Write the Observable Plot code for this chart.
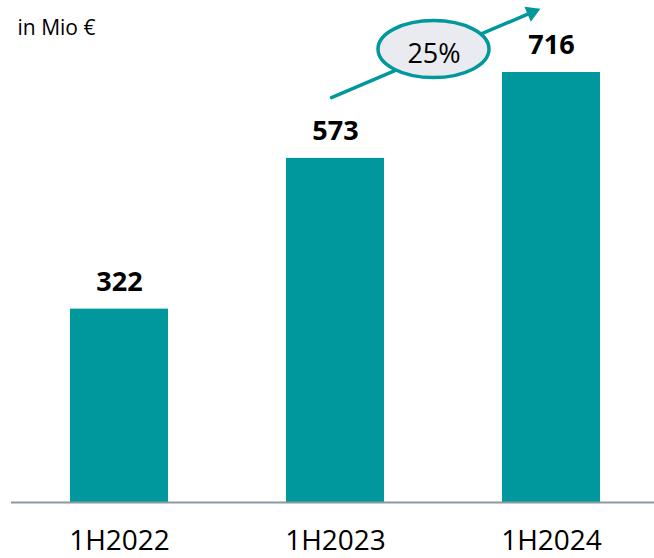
<!DOCTYPE html>
<html><head><meta charset="utf-8">
<script src="https://cdn.jsdelivr.net/npm/d3@7"></script>
<script src="https://cdn.jsdelivr.net/npm/@observablehq/plot@0.6"></script>
<style>html,body{margin:0;padding:0;background:#fff;} #chart{position:relative;width:654px;height:558px;overflow:hidden}</style>
</head><body><div id="chart"></div>
<script>
// Data
const periods = ["1H2022", "1H2023", "1H2024"];
const revenue = [322, 573, 716];
const unitLabel = "in Mio €";
// Growth annotation (heights expressed in Mio €)
const growthFrom = ["1H2023"];
const growthTo = ["1H2024"];
const growthLabels = ["25%"];
const arrowStartValue = [677];
const arrowEndValue = [830];
const arrowTipValue = [816];
const badgeValue = [755];

const data = periods.map((p, i) => ({period: p, value: revenue[i]}));
const growth = growthLabels.map((l, i) => ({
  from: growthFrom[i], to: growthTo[i], label: l,
  y1: arrowStartValue[i], y2: arrowEndValue[i], tip: arrowTipValue[i], badge: badgeValue[i]
}));

const teal = "#00989c";
const ellipseSymbol = {
  draw(ctx) {
    const rx = 55.5, ry = 28.5, k = 0.5523;
    ctx.moveTo(rx, 0);
    ctx.bezierCurveTo(rx, k * ry, k * rx, ry, 0, ry);
    ctx.bezierCurveTo(-k * rx, ry, -rx, k * ry, -rx, 0);
    ctx.bezierCurveTo(-rx, -k * ry, -k * rx, -ry, 0, -ry);
    ctx.bezierCurveTo(k * rx, -ry, rx, -k * ry, rx, 0);
    ctx.closePath();
  }
};

const chart = Plot.plot({
  width: 654, height: 558,
  marginLeft: 11, marginRight: 0, marginTop: 72, marginBottom: 56,
  style: {fontFamily: "'Open Sans', sans-serif", background: "#fff", color: "#000", overflow: "visible"},
  x: {type: "band", domain: periods, range: [5, 665], paddingInner: 0.546, paddingOuter: 0.3, align: 0.5, label: null},
  y: {domain: [0, 716], axis: null},
  marks: [
    Plot.barY(data, {x: "period", y: "value", fill: teal}),
    Plot.ruleY([0], {stroke: "#8b9a9f", strokeWidth: 2}),
    Plot.axisX({tickSize: 0, tickPadding: 28, fontSize: 28, fill: "#000", label: null}),
    Plot.text(data, {x: "period", y: "value", text: d => String(d.value), dy: -27, fontSize: 27, fontWeight: "bold", fill: "#000"}),
    Plot.arrow(growth, {x1: "from", y1: "y1", x2: "to", y2: "y2", stroke: teal, strokeWidth: 3.5, headLength: 0, insetStart: -4.35, insetEnd: 21.3}),
    Plot.dot(growth, {x: "to", y: "tip", symbol: "triangle", r: 6, fill: teal, dx: -19.6, rotate: 66.8}),
    Plot.dot(growth, {x: "from", y: "badge", symbol: ellipseSymbol, r: 10, fill: "#e9ebf1", stroke: teal, strokeWidth: 3.5, dx: 98}),
    Plot.text(growth, {x: "from", y: "badge", text: "label", dx: 98.5, dy: 5, fontSize: 27, fill: "#000"}),
    Plot.text([unitLabel], {frameAnchor: "top-left", dx: 6, dy: -52, lineAnchor: "top", textAnchor: "start", fontSize: 21, fill: "#000"})
  ]
});
document.getElementById("chart").appendChild(chart);
</script>
</body></html>
